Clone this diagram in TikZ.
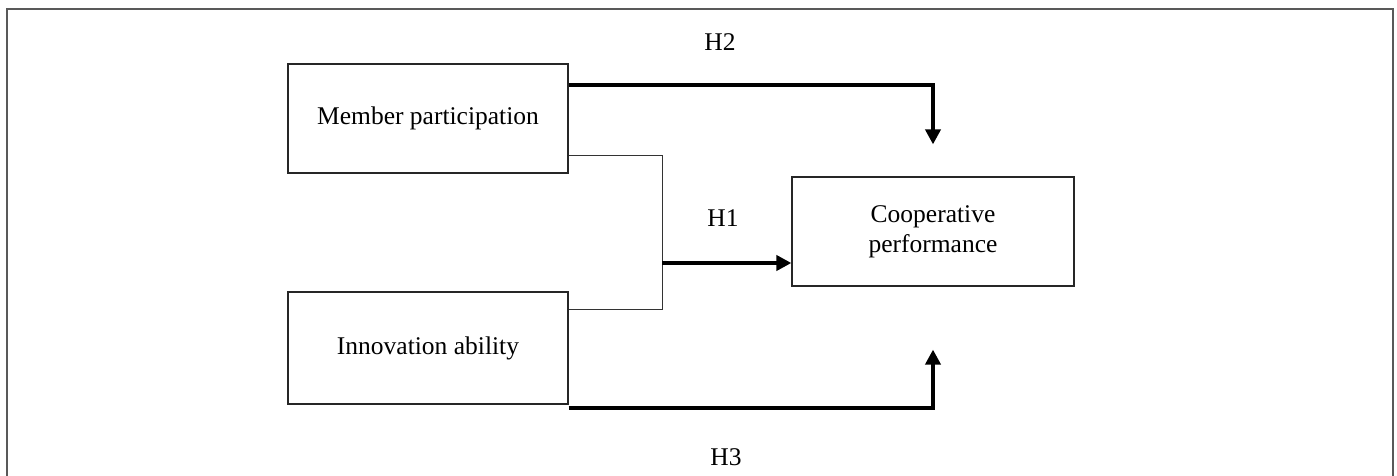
\documentclass[tikz,border=0pt]{standalone}
\usepackage{fontspec}
\setmainfont{Liberation Serif}
\usetikzlibrary{arrows.meta,calc}
\begin{document}
\begin{tikzpicture}[x=1pt,y=-1pt,
 box/.style={draw=black!85,line width=1.2pt,rectangle,inner sep=0pt,align=center,font=\fontsize{25.5}{30}\selectfont},
 lbl/.style={font=\fontsize{25.5}{30}\selectfont,inner sep=0pt},
 thinline/.style={line width=1.3pt,draw=black!80},
 bold/.style={line width=4pt,-{Triangle[length=15pt,width=15pt]}},
]
\useasboundingbox (0,0) rectangle (1397,476);
\draw[line width=2pt,black!65] (7,476) -- (7,9) -- (1393,9) -- (1393,476);
\node[box,minimum width=280pt,minimum height=109pt] (mp) at (428,118.5) {Member participation};
\node[box,minimum width=280pt,minimum height=112pt] (ia) at (428,348) {Innovation ability};
\node[box,minimum width=282pt,minimum height=109pt] (cp) at (933,231.5) {Cooperative\\performance};
\node[lbl] (h2) at (720,42) {H2};
\node[lbl] (h1) at (723,218) {H1};
\node[lbl] (h3) at (726,457) {H3};
\draw[bold] ($(mp.north east)+(0,22)$) -| ($(cp.north)+(0,-32)$);
\draw[thinline] ($(mp.south east)+(0,-18)$) -- ++(94,0) |- ($(ia.north east)+(0,18)$);
\coordinate (j) at (662,263);
\draw[bold] (j) -- (cp.west |- j);
\draw[bold] ($(ia.south east)+(0,3)$) -| ($(cp.south)+(0,63)$);
\end{tikzpicture}
\end{document}
